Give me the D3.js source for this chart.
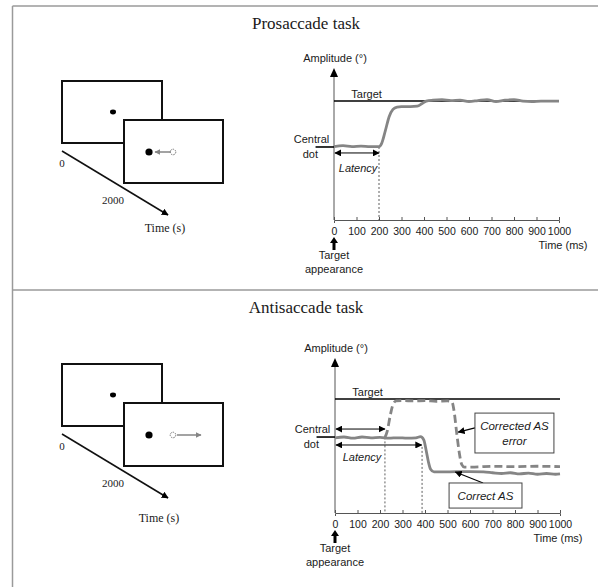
<!DOCTYPE html>
<html>
<head>
<meta charset="utf-8">
<script src="https://cdn.jsdelivr.net/npm/d3@7"></script>
<style>
  body { margin: 0; background: #fff; }
  svg { display: block; }
</style>
</head>
<body>
<div id="chart"></div>
<script>
const TICKS = [0, 100, 200, 300, 400, 500, 600, 700, 800, 900, 1000];
const TARGET_AMP = 10;
const CENTRAL_AMP = 0;

// prosaccade eye trace (time ms, amplitude deg)
const proTime = [0, 40, 80, 120, 160, 200, 212, 228, 245, 262, 280, 300, 340, 370, 390, 410, 440, 480, 520, 560, 600, 640, 680, 720, 760, 800, 840, 880, 920, 960, 1000];
const proAmp = [0.1, 0.3, 0.1, 0.2, 0.1, 0.1, 0.8, 3.5, 6.6, 8.2, 8.7, 8.8, 8.8, 8.9, 9.4, 10.0, 10.2, 10.3, 10.1, 10.2, 9.9, 10.1, 10.3, 9.9, 10.2, 10.3, 10.0, 9.9, 10.0, 10.0, 10.0];

// antisaccade: correct AS (solid)
const correctTime = [0, 40, 80, 120, 160, 200, 240, 280, 320, 360, 380, 395, 405, 415, 425, 440, 480, 540, 600, 660, 700, 740, 780, 820, 860, 900, 940, 980, 1000];
const correctAmp = [-0.2, 0, -0.3, 0, -0.2, -0.1, -0.3, -0.2, -0.3, -0.2, 0.1, -0.8, -3.5, -6.5, -8.5, -9.2, -9.2, -9.1, -9.1, -9.2, -9.4, -9.6, -9.4, -9.7, -9.5, -9.8, -9.6, -9.8, -9.7];

// antisaccade: corrected AS error (dashed)
const errorTime = [222, 232, 245, 258, 272, 300, 350, 400, 450, 500, 520, 530, 540, 552, 563, 575, 620, 700, 800, 900, 1000];
const errorAmp = [-0.1, 1.5, 5.5, 8.6, 9.5, 9.6, 9.5, 9.6, 9.4, 9.5, 9.2, 6.5, 1.5, -4, -7.2, -7.9, -7.9, -7.7, -7.8, -7.7, -7.8];

// latency arrows: [end ms, amplitude]
const proLatency = [[200, -1.3]];
const antiLatency = [[222, 2.1], [385, -2.1]];

const W = 598, H = 587;
const SANS = "'Liberation Sans', Arial, sans-serif";
const SERIF = "'Liberation Serif', 'Times New Roman', serif";
const TRACE = "#858585";

const svg = d3.select("#chart").append("svg")
  .attr("width", W)
  .attr("height", H);

const defs = svg.append("defs");
defs.append("marker")
  .attr("id", "head")
  .attr("viewBox", "0 0 10 10")
  .attr("refX", 9).attr("refY", 5)
  .attr("markerWidth", 7).attr("markerHeight", 7)
  .attr("markerUnits", "userSpaceOnUse")
  .attr("orient", "auto-start-reverse")
  .append("path").attr("d", "M0,0L10,5L0,10Z").attr("fill", "#000");
defs.append("marker")
  .attr("id", "headGray")
  .attr("viewBox", "0 0 10 10")
  .attr("refX", 9).attr("refY", 5)
  .attr("markerWidth", 6).attr("markerHeight", 6)
  .attr("markerUnits", "userSpaceOnUse")
  .attr("orient", "auto")
  .append("path").attr("d", "M0,0L10,5L0,10Z").attr("fill", TRACE);

// frame
const frame = svg.append("g").attr("stroke", "#9a9a9a").attr("stroke-width", 1.5);
frame.append("line").attr("x1", 12.5).attr("x2", 12.5).attr("y1", 6).attr("y2", H);
frame.append("line").attr("x1", 12.5).attr("x2", W).attr("y1", 6).attr("y2", 6);
frame.append("line").attr("x1", 12.5).attr("x2", W).attr("y1", 290).attr("y2", 290);

function label(g, x, y, txt, opts = {}) {
  return g.append("text")
    .attr("x", x).attr("y", y)
    .attr("text-anchor", opts.anchor || "middle")
    .attr("font-family", opts.family || SANS)
    .attr("font-size", opts.size || 11)
    .attr("font-style", opts.italic ? "italic" : null)
    .attr("fill", "#1a1a1a")
    .text(txt);
}

function drawScreens(g, c) {
  g.append("rect").attr("x", 62).attr("y", c.top).attr("width", 100).attr("height", 62)
    .attr("fill", "#fff").attr("stroke", "#111").attr("stroke-width", 2);
  g.append("ellipse").attr("cx", 113).attr("cy", c.top + 31).attr("rx", 3).attr("ry", 2.4).attr("fill", "#000");
  g.append("line").attr("x1", 62).attr("y1", c.top + 70).attr("x2", 168).attr("y2", c.top + 134)
    .attr("stroke", "#111").attr("stroke-width", 1.6).attr("marker-end", "url(#head)");
  g.append("rect").attr("x", 124).attr("y", c.top + 39).attr("width", 99).attr("height", 63)
    .attr("fill", "#fff").attr("stroke", "#111").attr("stroke-width", 2);
  const cy = c.top + 71;
  g.append("circle").attr("cx", 149).attr("cy", cy).attr("r", 3.6).attr("fill", "#000");
  g.append("circle").attr("cx", 173).attr("cy", cy).attr("r", 2.8)
    .attr("fill", "#fff").attr("stroke", "#777").attr("stroke-width", 1).attr("stroke-dasharray", "1.5,1");
  g.append("line").attr("x1", c.arrow[0]).attr("x2", c.arrow[1]).attr("y1", cy).attr("y2", cy)
    .attr("stroke", TRACE).attr("stroke-width", 1.5).attr("marker-end", "url(#headGray)");
  label(g, 62, c.top + 86, "0", { family: SERIF, size: 11 });
  label(g, 113, c.top + 123, "2000", { family: SERIF, size: 11 });
  label(g, c.timeX, c.timeY, "Time (s)", { family: SERIF, size: 12 });
}

function drawPanel(c) {
  const g = svg.append("g");
  label(g, 306, c.titleY, c.title, { family: SERIF, size: 17 });

  const x = d3.scaleLinear().domain([0, 1000]).range(c.xRange);
  const y = d3.scaleLinear().domain(c.yDomain).range(c.yRange);
  const y0 = c.yRange[0], yTop = c.yRange[1];

  // axes
  const xAxis = g.append("g")
    .attr("transform", `translate(0,${y0})`)
    .call(d3.axisBottom(x).tickValues(TICKS).tickSize(3).tickFormat(d3.format("d")));
  xAxis.select(".domain").attr("stroke", "#555");
  xAxis.selectAll(".tick line").attr("stroke", "#555").attr("y1", -3).attr("y2", 0);
  xAxis.selectAll(".tick text")
    .attr("font-family", SANS).attr("font-size", 10.5).attr("fill", "#1a1a1a")
    .attr("dy", null).attr("y", 15);

  g.append("line").attr("x1", x(0)).attr("x2", x(0)).attr("y1", y0).attr("y2", yTop + 8)
    .attr("stroke", "#555").attr("stroke-width", 1);
  g.append("path")
    .attr("d", `M${x(0)},${yTop}L${x(0) + 4},${yTop + 9}L${x(0) - 4},${yTop + 9}Z`)
    .attr("fill", "#000");

  label(g, x(0) + 1, yTop - 6, "Amplitude (°)", { size: 11 });
  label(g, c.timeMsX, y0 + 29, "Time (ms)", { size: 11 });

  // target appearance arrow
  g.append("path")
    .attr("d", `M${x(0) - 1.5},${y0 + 30}V${y0 + 23}H${x(0) - 4}L${x(0)},${y0 + 17}L${x(0) + 4},${y0 + 23}H${x(0) + 1.5}V${y0 + 30}Z`)
    .attr("fill", "#000");
  label(g, x(0), y0 + 39, "Target", { size: 11 });
  label(g, x(0), y0 + 53, "appearance", { size: 11 });

  // target and central dot levels
  g.append("line").attr("x1", x(0)).attr("x2", x(1000))
    .attr("y1", y(TARGET_AMP)).attr("y2", y(TARGET_AMP))
    .attr("stroke", "#000").attr("stroke-width", 1.6);
  label(g, x(145), y(TARGET_AMP) - 3, "Target", { size: 11 });
  g.append("line").attr("x1", x(-82)).attr("x2", x(0))
    .attr("y1", y(CENTRAL_AMP)).attr("y2", y(CENTRAL_AMP))
    .attr("stroke", "#000").attr("stroke-width", 1.6);
  label(g, x(-100), y(CENTRAL_AMP) - 4, "Central", { size: 11 });
  label(g, x(-105), y(CENTRAL_AMP) + 11, "dot", { size: 11 });

  // latency
  c.latency.forEach(([t, a], i) => {
    g.append("line").attr("x1", x(0) + 1).attr("x2", x(t))
      .attr("y1", y(a)).attr("y2", y(a))
      .attr("stroke", "#000").attr("stroke-width", 1)
      .attr("marker-start", "url(#head)").attr("marker-end", "url(#head)");
    g.append("line").attr("x1", x(c.dropAt[i][0])).attr("x2", x(c.dropAt[i][0]))
      .attr("y1", y(c.dropAt[i][1])).attr("y2", y0)
      .attr("stroke", "#333").attr("stroke-width", 0.8).attr("stroke-dasharray", "2,2");
  });
  label(g, x(c.latencyLabel[0]), y(c.latencyLabel[1]), "Latency", { size: 11, italic: true });

  const line = d3.line().x(d => x(d[0])).y(d => y(d[1])).curve(d3.curveMonotoneX);
  c.traces.forEach(tr => {
    g.append("path")
      .datum(d3.zip(tr.t, tr.a))
      .attr("d", line)
      .attr("fill", "none")
      .attr("stroke", TRACE)
      .attr("stroke-width", 2.8)
      .attr("stroke-linejoin", "round")
      .attr("stroke-dasharray", tr.dash || null);
  });

  (c.boxes || []).forEach(b => {
    g.append("line").attr("x1", x(b.from[0])).attr("y1", y(b.from[1]))
      .attr("x2", x(b.to[0])).attr("y2", y(b.to[1]))
      .attr("stroke", "#000").attr("stroke-width", 1.2).attr("marker-end", "url(#head)");
    g.append("rect")
      .attr("x", x(b.box[0])).attr("y", y(b.box[2]))
      .attr("width", x(b.box[1]) - x(b.box[0])).attr("height", y(b.box[3]) - y(b.box[2]))
      .attr("fill", "#fff").attr("stroke", "#444").attr("stroke-width", 1);
    const cx = (x(b.box[0]) + x(b.box[1])) / 2;
    b.lines.forEach((txt, i) => {
      label(g, cx, b.textY[i], txt, { size: 11.5, italic: true });
    });
  });

  drawScreens(g, c.screens);
}

drawPanel({
  title: "Prosaccade task", titleY: 29,
  xRange: [334, 559], yDomain: [-15.9, 17.2], yRange: [220, 68],
  timeMsX: 563,
  latency: proLatency, dropAt: [[200, 0]], latencyLabel: [107, -5.5],
  traces: [{ t: proTime, a: proAmp }],
  screens: { top: 81, arrow: [171, 155], timeX: 165, timeY: 232 }
});

drawPanel({
  title: "Antisaccade task", titleY: 313,
  xRange: [335, 560], yDomain: [-20, 20.8], yRange: [513, 358],
  timeMsX: 558,
  latency: antiLatency, dropAt: [[222, -0.1], [387, -2.6]], latencyLabel: [120, -6.3],
  traces: [
    { t: errorTime, a: errorAmp, dash: "8,4" },
    { t: correctTime, a: correctAmp }
  ],
  boxes: [
    { box: [622, 973, 6.3, -4.2], from: [622, 2.4], to: [548, 1.3], lines: ["Corrected AS", "error"], textY: [430, 445] },
    { box: [507, 831, -12.1, -18.7], from: [658, -12.1], to: [535, -9.2], lines: ["Correct AS"], textY: [500] }
  ],
  screens: { top: 364, arrow: [177, 201], timeX: 159, timeY: 522 }
});
</script>
</body>
</html>
